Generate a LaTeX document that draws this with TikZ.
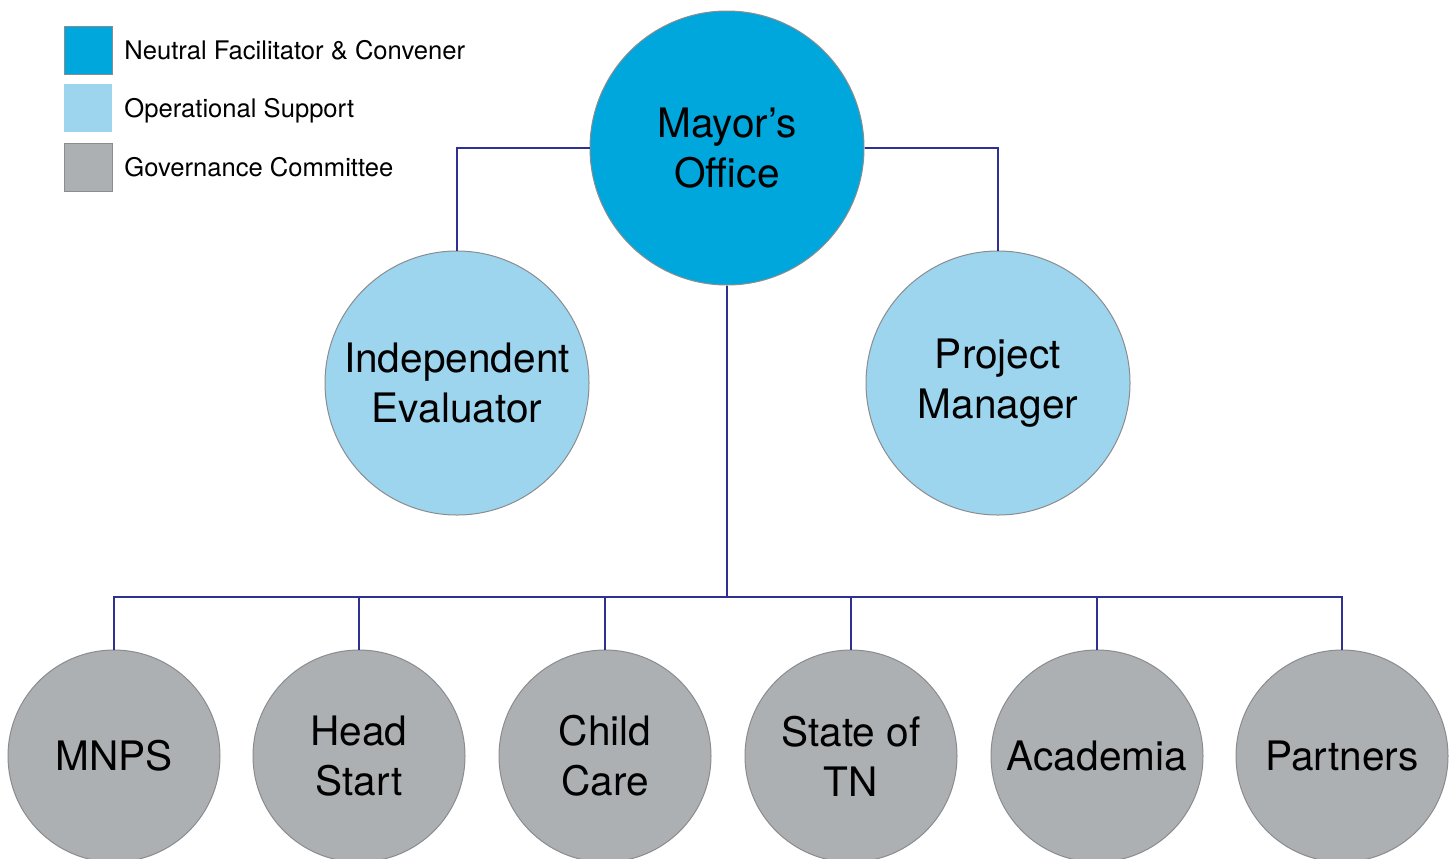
\documentclass[tikz,border=0pt]{standalone}
\usepackage{fontspec}
\setmainfont{TeX Gyre Heros}
\definecolor{mayorblue}{RGB}{0,167,220}
\definecolor{supportblue}{RGB}{157,213,239}
\definecolor{govgray}{RGB}{173,176,179}
\definecolor{rimgray}{RGB}{138,140,143}
\definecolor{linkblue}{RGB}{46,49,146}
\begin{document}
\begin{tikzpicture}[x=0.5pt,y=-0.5pt,
  bubble/.style={circle,draw=rimgray,line width=0.5pt,align=center,inner sep=0pt,font=\fontsize{20.3}{25}\selectfont},
  lead/.style={bubble,fill=mayorblue,minimum size=137pt},
  support/.style={bubble,fill=supportblue,minimum size=132pt},
  member/.style={bubble,fill=govgray,minimum size=106pt},
  key/.style={minimum size=24pt,inner sep=0pt},
  keytext/.style={anchor=base west,inner sep=0pt,font=\fontsize{12.8}{15}\selectfont},
  link/.style={draw=linkblue,line width=1.4pt}]
\useasboundingbox (0,0) rectangle (1455,858);
\node[key,fill=mayorblue,draw=rimgray,line width=0.5pt] (k1) at (88,50) {};
\node[key,fill=supportblue] (k2) at (88,108) {};
\node[key,fill=govgray,draw=rimgray,line width=0.5pt] (k3) at (88,167) {};
\node[keytext] (t1) at (124,59) {Neutral Facilitator \& Convener};
\node[keytext] (t2) at (124,117) {Operational Support};
\node[keytext] (t3) at (124,176) {Governance Committee};
\node[lead] (mayor) at (727,148) {Mayor's\\Office};
\node[support] (eval) at (457,383) {Independent\\Evaluator};
\node[support] (pm) at (998,383) {Project\\Manager};
\node[member] (mnps) at (114,756) {MNPS};
\node[member] (head) at (359,756) {Head\\Start};
\node[member] (child) at (605,756) {Child\\Care};
\node[member] (state) at (851,756) {State of\\TN};
\node[member] (acad) at (1097,756) {Academia};
\node[member] (partners) at (1342,756) {Partners};
\coordinate (bus) at (727,597);
\draw[link] (mayor.west) -| (eval.north);
\draw[link] (mayor.east) -| (pm.north);
\draw[link] (mayor.south) -- (bus);
\draw[link] (mnps.north) |- (bus) -| (partners.north);
\foreach \m in {head,child,state,acad}
  \draw[link] (\m.north) -- (\m.north |- bus);
\end{tikzpicture}
\end{document}
